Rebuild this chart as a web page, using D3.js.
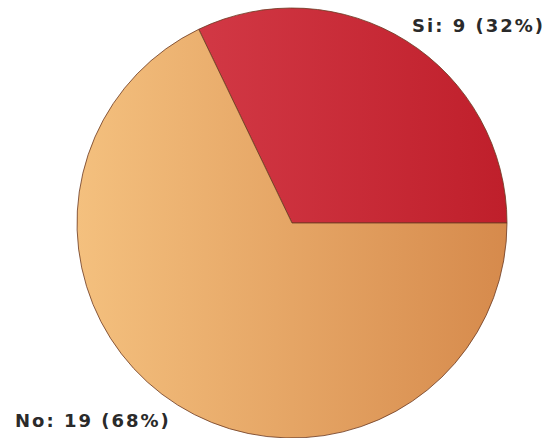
<!DOCTYPE html>
<html>
<head>
<meta charset="utf-8">
<script src="https://cdn.jsdelivr.net/npm/d3@7"></script>
<style>
  body { margin: 0; background: #fff; }
  text { font-family: "DejaVu Sans", Verdana, sans-serif; font-weight: bold; fill: #2a2a2a; }
</style>
</head>
<body>
<svg id="chart"></svg>
<script>
var categories = ["Si", "No"];
var counts = [9, 19];
var percents = ["32%", "68%"];
var colorsLight = ["#d9424f", "#f4c07e"];
var colorsDark = ["#bf1f2b", "#d68a4c"];

var width = 546, height = 438;
var cx = 292, cy = 223, radius = 215;

var svg = d3.select("#chart").attr("width", width).attr("height", height);

var defs = svg.append("defs");
categories.forEach(function (c, i) {
  var lg = defs.append("linearGradient")
    .attr("id", "grad" + i)
    .attr("gradientUnits", "userSpaceOnUse")
    .attr("x1", -radius).attr("x2", radius)
    .attr("y1", 0).attr("y2", 0);
  lg.append("stop").attr("offset", "0%").attr("stop-color", colorsLight[i]);
  lg.append("stop").attr("offset", "100%").attr("stop-color", colorsDark[i]);
});

// starts at 3 o'clock and runs counter-clockwise
var pie = d3.pie().sort(null)
  .startAngle(Math.PI / 2)
  .endAngle(Math.PI / 2 - 2 * Math.PI)
  .value(function (d) { return d; });

var arc = d3.arc().innerRadius(0).outerRadius(radius);

var g = svg.append("g").attr("transform", "translate(" + cx + "," + cy + ")");
g.selectAll("path")
  .data(pie(counts))
  .enter()
  .append("path")
  .attr("d", arc)
  .attr("fill", function (d, i) { return "url(#grad" + i + ")"; })
  .attr("stroke", "#6b3a22")
  .attr("stroke-width", 1)
  .attr("stroke-opacity", 0.8);

var labelPos = [[545, 32, "end"], [15, 427, "start"]];
svg.selectAll("text.lbl")
  .data(categories)
  .enter()
  .append("text")
  .attr("class", "lbl")
  .attr("x", function (d, i) { return labelPos[i][0]; })
  .attr("y", function (d, i) { return labelPos[i][1]; })
  .attr("text-anchor", function (d, i) { return labelPos[i][2]; })
  .style("font-size", "18px")
  .style("letter-spacing", "2px")
  .text(function (d, i) { return d + ": " + counts[i] + " (" + percents[i] + ")"; });
</script>
</body>
</html>
